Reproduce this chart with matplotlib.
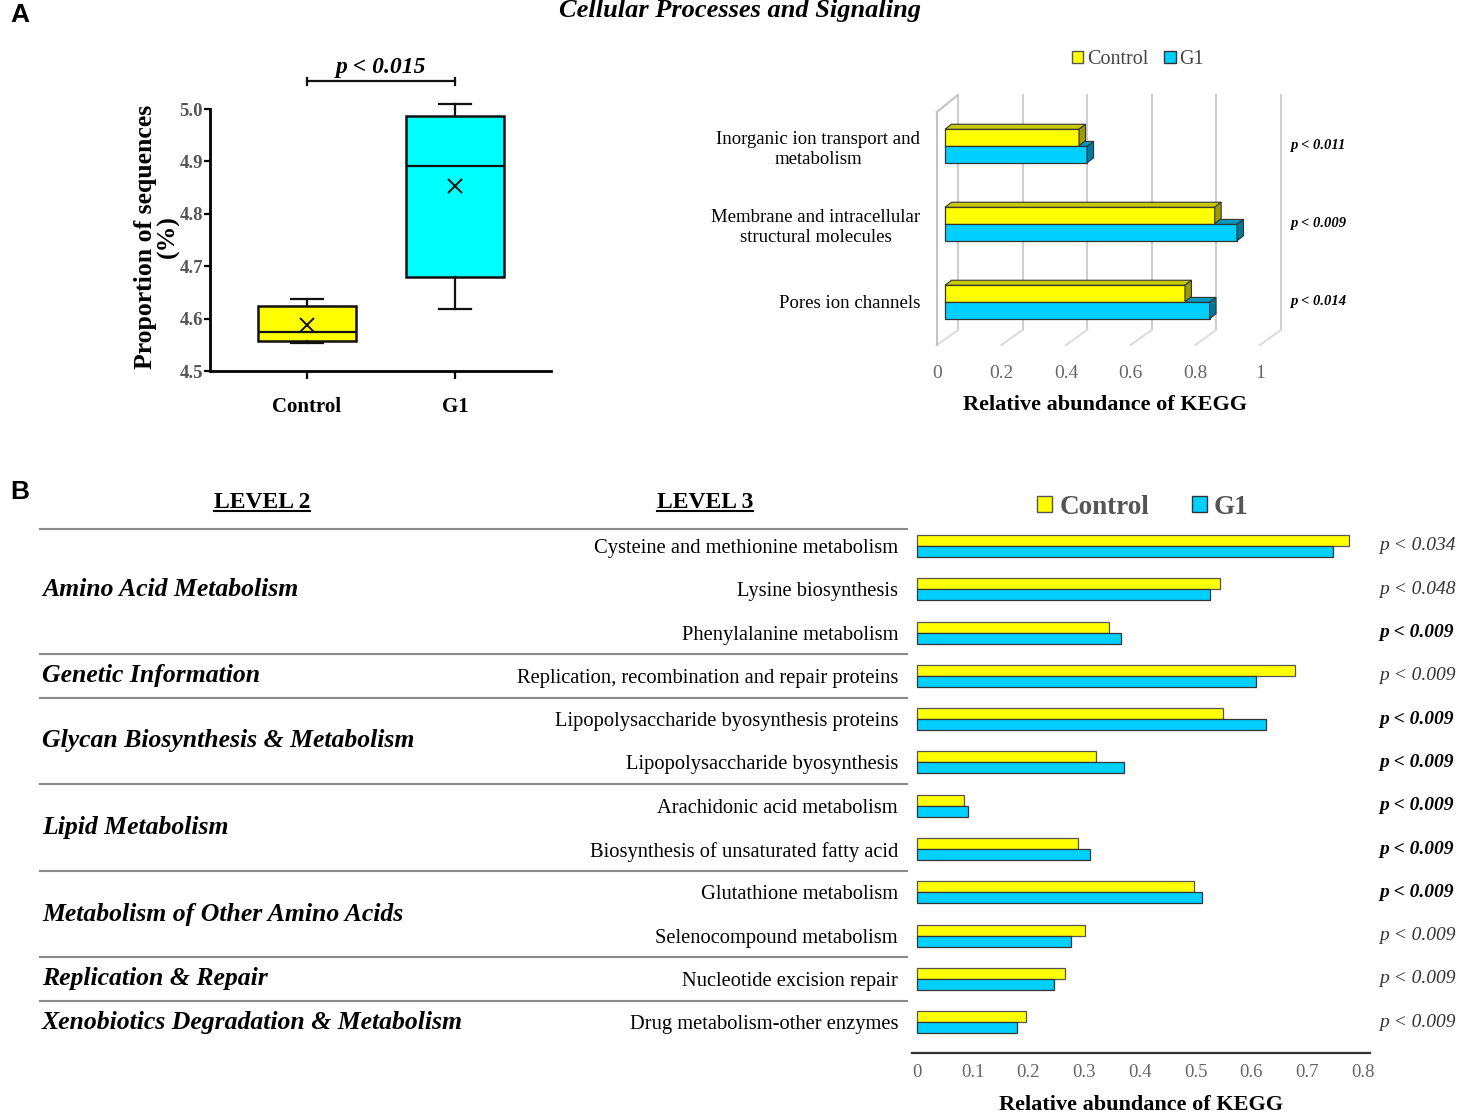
import numpy as np
import matplotlib
matplotlib.use("Agg")
import matplotlib.pyplot as plt
from matplotlib.patches import Patch, Polygon
from matplotlib.transforms import blended_transform_factory

W, H = 1458, 1116
SERIF = "Liberation Serif"

# ---- panel A: box plot
groups = ["Control", "G1"]
box_low = [4.553, 4.618]
box_q1 = [4.557, 4.680]
box_med = [4.574, 4.892]
box_q3 = [4.625, 4.986]
box_high = [4.638, 5.010]
box_mean = [4.587, 4.853]
box_p = "p < 0.015"

# ---- panel A: KEGG bars
kegg_a = ["Inorganic ion transport and\nmetabolism",
          "Membrane and intracellular\nstructural molecules",
          "Pores ion channels"]
kegg_a_ctrl = [0.415, 0.835, 0.743]
kegg_a_g1 = [0.440, 0.904, 0.819]
kegg_a_p = ["p < 0.011", "p < 0.009", "p < 0.014"]
kegg_a_ticks = [0, 0.2, 0.4, 0.6, 0.8, 1]
kegg_a_ticklabels = ["0", "0.2", "0.4", "0.6", "0.8", "1"]

# ---- panel B
level2 = ["Amino Acid Metabolism", "Genetic Information",
          "Glycan Biosynthesis & Metabolism", "Lipid Metabolism",
          "Metabolism of Other Amino Acids", "Replication & Repair",
          "Xenobiotics Degradation & Metabolism"]
level2_size = [3, 1, 2, 2, 2, 1, 1]
level3 = ["Cysteine and methionine metabolism", "Lysine biosynthesis",
          "Phenylalanine metabolism", "Replication, recombination and repair proteins",
          "Lipopolysaccharide byosynthesis proteins", "Lipopolysaccharide byosynthesis",
          "Arachidonic acid metabolism", "Biosynthesis of unsaturated fatty acid",
          "Glutathione metabolism", "Selenocompound metabolism",
          "Nucleotide excision repair", "Drug metabolism-other enzymes"]
b_ctrl = [0.775, 0.543, 0.345, 0.678, 0.550, 0.321, 0.084, 0.289, 0.497, 0.301, 0.265, 0.195]
b_g1 = [0.746, 0.525, 0.367, 0.608, 0.626, 0.372, 0.091, 0.310, 0.512, 0.277, 0.246, 0.179]
b_p = ["p < 0.034", "p < 0.048", "p < 0.009", "p < 0.009", "p < 0.009", "p < 0.009",
       "p < 0.009", "p < 0.009", "p < 0.009", "p < 0.009", "p < 0.009", "p < 0.009"]
b_p_bold = [False, False, True, False, True, True, True, True, True, False, False, False]
b_ticks = [0, 0.1, 0.2, 0.3, 0.4, 0.5, 0.6, 0.7, 0.8]
b_ticklabels = ["0", "0.1", "0.2", "0.3", "0.4", "0.5", "0.6", "0.7", "0.8"]

YEL = "#FFFF00"
CYAN = "#00D0FF"


def rect(x0, y0, x1, y1):
    """ pixel box -> figure fraction [l, b, w, h] """
    return [x0 / W, 1 - y1 / H, (x1 - x0) / W, (y1 - y0) / H]


fig = plt.figure(figsize=(W / 100, H / 100), dpi=100)

fig.text(10 / W, 1 - 15 / H, "A", family="Liberation Sans", weight="bold", size=19, va="center")
fig.text(10 / W, 1 - 492 / H, "B", family="Liberation Sans", weight="bold", size=19, va="center")
fig.text(740 / W, 1 - 10 / H, "Cellular Processes and Signaling", family=SERIF,
         style="italic", weight="bold", size=19, ha="center", va="center")

# ================= box plot =================
ax1 = fig.add_axes(rect(210, 109, 551, 371))
stats = []
for i in range(len(groups)):
    stats.append(dict(whislo=box_low[i], q1=box_q1[i], med=box_med[i], q3=box_q3[i],
                      whishi=box_high[i], mean=box_mean[i], fliers=[]))
bp = ax1.bxp(stats, positions=[1, 2], widths=0.66, capwidths=0.22, patch_artist=True,
             showmeans=True,
             boxprops=dict(linewidth=1.8, edgecolor="#111111"),
             whiskerprops=dict(linewidth=1.6, color="#111111"),
             capprops=dict(linewidth=1.6, color="#111111"),
             medianprops=dict(linewidth=1.6, color="#111111"),
             meanprops=dict(marker="x", markeredgecolor="#111111", markersize=10,
                            markeredgewidth=1.4))
for patch, col in zip(bp["boxes"], [YEL, "#00FFFF"]):
    patch.set_facecolor(col)
for key in bp:
    for art in bp[key]:
        art.set_clip_on(False)
ax1.set_xlim(0.345, 2.65)
ax1.set_ylim(4.5, 5.0)
ax1.spines[["top", "right"]].set_visible(False)
ax1.spines["left"].set_linewidth(2)
ax1.spines["bottom"].set_linewidth(2)
ax1.set_yticks([4.5, 4.6, 4.7, 4.8, 4.9, 5.0], ["4.5", "4.6", "4.7", "4.8", "4.9", "5.0"])
ax1.set_xticks([1, 2], groups)
ax1.tick_params(axis="y", length=4, width=1.6, labelsize=13.5, labelcolor="#555555", pad=1)
ax1.tick_params(axis="x", length=6, width=1.6, labelsize=15, pad=13)
for lbl in ax1.get_yticklabels() + ax1.get_xticklabels():
    lbl.set_family(SERIF)
    lbl.set_weight("bold")
# significance bracket
yb = 5.053
ax1.plot([1, 2], [yb, yb], color="#111111", lw=1.6, clip_on=False)
for xe in [1, 2]:
    ax1.plot([xe, xe], [yb - 0.008, yb + 0.006], color="#111111", lw=1.6, clip_on=False)
ax1.text(1.5, yb + 0.006, box_p, ha="center", va="bottom", family=SERIF, style="italic",
         weight="bold", size=17)
fig.text(157 / W, 1 - 237 / H, "Proportion of sequences\n(%)", rotation=90, ha="center",
         va="center", multialignment="center", family=SERIF, weight="bold", size=18.5,
         linespacing=1.0)

# ================= pseudo 3D bar chart =================
ax2 = fig.add_axes(rect(935.3, 87.5, 1287.4, 356.6))
ax2.set_xlim(-0.03, 1.06)
ax2.set_ylim(2.7, -0.75)
for s in ax2.spines.values():
    s.set_visible(False)
bx, fx = 0.040, 0.025          # back wall / front floor offsets
wall_top, wall_bot, floor_y, front_top = -0.654, 2.359, 2.55, -0.436
for v in kegg_a_ticks:
    ax2.plot([v + bx, v + bx], [wall_top, wall_bot], color="#cfcfcf", lw=1.5, zorder=0)
    ax2.plot([v + bx, v - fx], [wall_bot, floor_y], color="#dddddd", lw=1.5, zorder=0)
ax2.plot([-fx, -fx], [front_top, floor_y], color="#c4c4c4", lw=1.5, zorder=0)
ax2.plot([-fx, bx], [front_top, wall_top], color="#c4c4c4", lw=1.5, zorder=0)

h = 0.21
ddx, ddy = 0.02, -0.064
pos = np.arange(len(kegg_a))


def faces(ax, yc, w, top_col, side_col, which, z):
    yt, yb_ = yc - h / 2, yc + h / 2
    if "top" in which:
        ax.add_patch(Polygon([(0, yt), (w, yt), (w + ddx, yt + ddy), (ddx, yt + ddy)],
                             closed=True, fc=top_col, ec="#333333", lw=0.8, zorder=z))
    if "side" in which:
        ax.add_patch(Polygon([(w, yt), (w, yb_), (w + ddx, yb_ + ddy), (w + ddx, yt + ddy)],
                             closed=True, fc=side_col, ec="#333333", lw=0.8, zorder=z))


for i in pos:
    faces(ax2, i + 0.11, kegg_a_g1[i], "#0099C0", "#007A9A", "top", 1)
ax2.barh(pos - 0.11, kegg_a_ctrl, height=h, color=YEL, edgecolor="#333333", lw=0.9, zorder=2)
for i in pos:
    faces(ax2, i - 0.11, kegg_a_ctrl[i], "#C9C900", "#9C9C00", ("top", "side"), 2)
ax2.barh(pos + 0.11, kegg_a_g1, height=h, color=CYAN, edgecolor="#333333", lw=0.9, zorder=3)
for i in pos:
    faces(ax2, i + 0.11, kegg_a_g1[i], "#0099C0", "#007A9A", "side", 3)
    ax2.text(1.068, i, kegg_a_p[i], ha="left", va="center", family=SERIF, style="italic",
             weight="bold", size=10.5, clip_on=False)

ax2.set_xticks(np.array(kegg_a_ticks) - fx, kegg_a_ticklabels)
ax2.set_yticks(pos, kegg_a)
ax2.tick_params(axis="x", length=0, pad=6, labelsize=14, labelcolor="#666666")
ax2.tick_params(axis="y", length=0, pad=11, labelsize=13.5)
for lbl in ax2.get_xticklabels() + ax2.get_yticklabels():
    lbl.set_family(SERIF)
for lbl in ax2.get_yticklabels():
    lbl.set_multialignment("center")
fig.text(1105 / W, 1 - 405 / H, "Relative abundance of KEGG", ha="center", va="center",
         family=SERIF, weight="bold", size=16)
fig.legend(handles=[Patch(fc=YEL, ec="#555555"), Patch(fc=CYAN, ec="#333333")],
           labels=["Control", "G1"], loc="center", bbox_to_anchor=(1138 / W, 1 - 60 / H),
           ncol=2, frameon=False, prop=dict(family=SERIF, size=14.5), labelcolor="#444444",
           handlelength=0.55, handleheight=0.55, handletextpad=0.2, columnspacing=0.8)

# ================= panel B =================
ax3 = fig.add_axes(rect(912, 520, 1370, 1053))
rows = np.arange(len(level3))
hb = 0.254
ax3.barh(rows - hb / 2, b_ctrl, height=hb, color=YEL, edgecolor="#555555", lw=0.9)
ax3.barh(rows + hb / 2, b_g1, height=hb, color=CYAN, edgecolor="#333333", lw=0.9)
for i in rows:
    ax3.text(0.83, i, b_p[i], ha="left", va="center", family=SERIF, style="italic",
             weight="bold" if b_p_bold[i] else "normal",
             color="#000000" if b_p_bold[i] else "#333333", size=14, clip_on=False)
ax3.set_xlim(-0.009, 0.813)
ax3.set_ylim(11.71, -0.6)
for s in ["top", "right", "left"]:
    ax3.spines[s].set_visible(False)
ax3.spines["bottom"].set_linewidth(1.6)
ax3.spines["bottom"].set_color("#333333")
ax3.set_xticks(b_ticks, b_ticklabels)
ax3.set_yticks(rows, level3)
ax3.tick_params(axis="x", length=0, pad=8, labelsize=13.5, labelcolor="#666666")
ax3.tick_params(axis="y", length=0, pad=10, labelsize=14.8)
for lbl in ax3.get_xticklabels() + ax3.get_yticklabels():
    lbl.set_family(SERIF)
ax3.set_xlabel("Relative abundance of KEGG", family=SERIF, weight="bold", size=16, labelpad=10)

blend = blended_transform_factory(fig.transFigure, ax3.transData)
bounds = np.cumsum(level2_size)
seps = [-0.4] + list(bounds[:-1] - 0.5)
for y in seps:
    ax3.plot([40 / W, 907 / W], [y, y], color="#8a8a8a", lw=1.5, transform=blend, clip_on=False)
starts = np.concatenate([[0], bounds[:-1]])
for name, s0, n in zip(level2, starts, level2_size):
    ax3.text(42 / W, s0 + (n - 1) / 2, name, transform=blend, ha="left", va="center",
             family=SERIF, style="italic", weight="bold", size=18.5)

fig.legend(handles=[Patch(fc=YEL, ec="#555555"), Patch(fc=CYAN, ec="#333333")],
           labels=["Control", "G1"], loc="center", bbox_to_anchor=(1143 / W, 1 - 507 / H),
           ncol=2, frameon=False, prop=dict(family=SERIF, weight="bold", size=19.5),
           labelcolor="#555555", handlelength=0.55, handleheight=0.55, handletextpad=0.25,
           columnspacing=1.6)

# headers with underline
heads = [fig.text(262 / W, 1 - 503 / H, "LEVEL 2", ha="center", va="center", family=SERIF,
                  weight="bold", size=17),
         fig.text(705 / W, 1 - 503 / H, "LEVEL 3", ha="center", va="center", family=SERIF,
                  weight="bold", size=17)]
fig.canvas.draw()
inv = fig.transFigure.inverted()
for t in heads:
    bb = t.get_window_extent().transformed(inv)
    fig.add_artist(plt.Line2D([bb.x0, bb.x1], [bb.y0 + 0.002, bb.y0 + 0.002],
                              transform=fig.transFigure, color="black", lw=1.5))

fig.savefig("out.png", dpi=100)
